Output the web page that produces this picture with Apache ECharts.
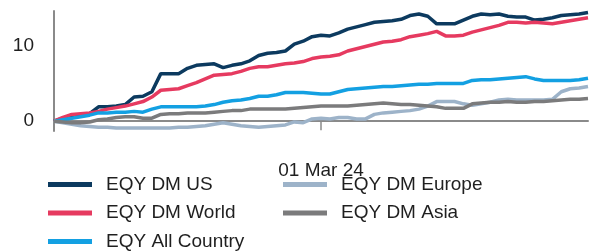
<!DOCTYPE html>
<html>
<head>
<meta charset="utf-8">
<script src="https://cdn.jsdelivr.net/npm/echarts@6/dist/echarts.min.js"></script>
<style>html,body{margin:0;padding:0;background:#fff;}#c{width:589px;height:252px;}</style>
</head>
<body>
<div id="c"></div>
<script>
// Dates: every second day from 01 Jan 2024 to 30 Apr 2024
const dates = [];
(function(){ const d0 = Date.UTC(2024,0,1); for (let i=0;i<=60;i++){ dates.push(new Date(d0 + i*2*86400000)); } })();
const months = ['Jan','Feb','Mar','Apr','May','Jun','Jul','Aug','Sep','Oct','Nov','Dec'];
const categories = dates.map(d => String(d.getUTCDate()).padStart(2,'0') + ' ' + months[d.getUTCMonth()] + ' ' + String(d.getUTCFullYear()).slice(2));
const shownLabel = '01 Mar 24';
const yTickLabels = [0, 10];

const seriesNames = ['EQY DM US','EQY DM World','EQY All Country','EQY DM Europe','EQY DM Asia'];
const usValues = [0,0.4,0.6,0.8,1.0,1.9,1.9,2.0,2.2,3.2,3.3,3.9,6.3,6.3,6.3,7.0,7.4,7.5,7.6,7.1,7.4,7.6,8.0,8.7,9.0,9.1,9.3,10.2,10.6,11.2,11.4,11.3,11.7,12.2,12.5,12.8,13.1,13.2,13.3,13.5,14.0,14.2,13.9,12.9,12.9,12.9,13.4,13.9,14.2,14.1,14.2,13.9,13.8,13.8,13.4,13.5,13.7,14.0,14.1,14.2,14.4];
const worldValues = [0,0.5,0.9,1.0,1.1,1.3,1.6,1.8,2.0,2.3,2.6,3.2,4.1,4.2,4.3,4.7,5.1,5.6,6.1,6.2,6.3,6.6,7.0,7.2,7.2,7.4,7.6,7.7,7.9,8.3,8.5,8.6,8.8,9.3,9.6,9.9,10.2,10.5,10.6,10.8,11.2,11.4,11.6,11.9,11.3,11.3,11.4,11.8,12.1,12.4,12.7,13.1,13.1,13.0,13.1,13.0,12.9,13.1,13.3,13.5,13.7];
const allCountryValues = [0,0.2,0.4,0.6,0.8,1.1,1.1,1.2,1.2,1.3,1.2,1.6,1.9,1.9,1.9,1.9,1.9,2.0,2.2,2.5,2.7,2.8,3.0,3.3,3.3,3.5,3.8,3.8,3.8,3.7,3.6,3.6,3.9,4.2,4.3,4.4,4.5,4.6,4.6,4.7,4.8,4.9,4.9,5.0,5.0,5.0,5.0,5.4,5.5,5.5,5.6,5.7,5.8,5.9,5.6,5.4,5.4,5.4,5.4,5.5,5.7];
const europeValues = [0,-0.2,-0.4,-0.6,-0.7,-0.8,-0.8,-0.9,-0.9,-0.9,-0.9,-0.9,-0.9,-0.9,-0.8,-0.8,-0.7,-0.6,-0.4,-0.2,-0.4,-0.6,-0.7,-0.8,-0.7,-0.6,-0.5,-0.1,-0.2,0.3,0.4,0.3,0.5,0.5,0.3,0.3,0.9,1.1,1.2,1.3,1.4,1.6,2.0,2.6,2.6,2.6,2.3,2.1,2.3,2.5,2.8,2.9,2.8,2.8,2.8,2.8,2.9,3.9,4.3,4.4,4.6];
const asiaValues = [0,-0.1,-0.2,-0.2,-0.1,0.2,0.3,0.5,0.6,0.6,0.4,0.4,0.9,1.0,1.0,1.1,1.1,1.1,1.2,1.3,1.4,1.4,1.6,1.6,1.6,1.6,1.6,1.7,1.8,1.9,2.0,2.0,2.0,2.0,2.1,2.2,2.3,2.4,2.3,2.2,2.2,2.1,2.0,1.9,1.7,1.7,1.7,2.3,2.4,2.5,2.5,2.6,2.5,2.5,2.6,2.6,2.7,2.8,2.9,2.9,3.0];
const seriesValues = [usValues, worldValues, allCountryValues, europeValues, asiaValues];
const colors = ['#0c3a5f','#e63a60','#13a0e2','#9db3c9','#7b7b7c'];

const FONT = 'Liberation Sans, Arial, sans-serif';
const TXT = '#1f1f1f';
const AX = '#8a8a8a';
const chart = echarts.init(document.getElementById('c'), null, {renderer:'canvas'});
const shownIdx = categories.indexOf(shownLabel);
const legendCommon = {
  orient:'vertical', itemWidth:44, itemHeight:5, itemGap:9.5, icon:'rect', height:120, padding:0,
  formatter: n => '{t|' + n + '}',
  textStyle:{ rich:{ t:{ fontFamily:FONT, fontSize:19, color:TXT, padding:[0,0,0,9], lineHeight:19 } } }
};
chart.setOption({
  animation:false,
  color: colors,
  grid:{ left:54, right:1, top:11, bottom:121, containLabel:false },
  legend:[
    Object.assign({ left:48, top:175, data:seriesNames.slice(0,3) }, legendCommon),
    Object.assign({ left:283, top:175, data:seriesNames.slice(3) }, legendCommon)
  ],
  xAxis:{
    type:'category', data:categories, boundaryGap:false,
    axisLine:{ lineStyle:{ color:AX, width:2 } },
    axisTick:{ show:true, interval:(i)=> i===shownIdx, length:9, lineStyle:{ color:AX, width:1.5 } },
    axisLabel:{ interval:(i)=> i===shownIdx, margin:30, fontFamily:FONT, fontSize:19, color:TXT }
  },
  yAxis:{
    type:'value', min:-1.3, max:14.6,
    axisLine:{ show:true, lineStyle:{ color:AX, width:2 } },
    axisTick:{ show:false },
    splitLine:{ show:false },
    axisLabel:{ customValues:yTickLabels, margin:20, fontFamily:FONT, fontSize:19, color:TXT }
  },
  series: seriesNames.map((n,k)=>({
    name:n, type:'line', data:seriesValues[k], showSymbol:false, symbol:'none',
    lineStyle:{ width:3.5, color:colors[k] }, itemStyle:{ color:colors[k] }
  }))
});
</script>
</body>
</html>
